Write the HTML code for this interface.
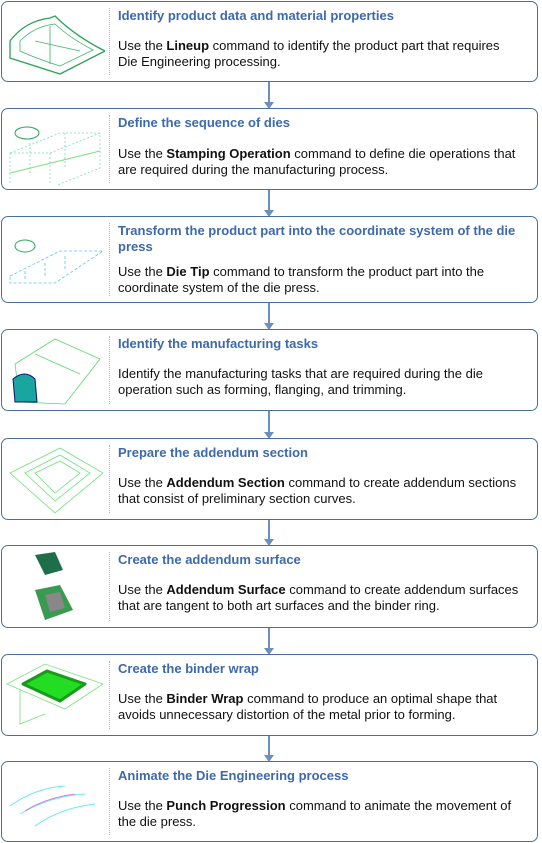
<!DOCTYPE html>
<html><head><meta charset="utf-8"><style>
body{margin:0;width:542px;height:843px;background:#fff;position:relative;font-family:"Liberation Sans",Arial,sans-serif;overflow:hidden}
.box{position:absolute;left:1px;width:537px;border:1.3px solid #4a6f9e;border-radius:7px;box-sizing:border-box;background:#fff}
.div{position:absolute;left:107px;top:6px;bottom:6px;border-left:1.5px dotted #9bbbe0}
.t{position:absolute;left:116px;top:6px;right:10px;color:#3d69ad;font-weight:bold;font-size:13px;line-height:16px}
.b{position:absolute;left:116px;right:17px;color:#111;font-size:13px;line-height:16px}
.img{position:absolute;left:3px;top:4px;width:100px;height:72px}
.arrow{position:absolute;left:268px;width:2px;background:#6a8fc0}
.arrow:after{content:"";position:absolute;left:-4px;bottom:-1px;border-left:5px solid transparent;border-right:5px solid transparent;border-top:7px solid #6a8fc0}
</style></head><body>
<div class="box" style="top:1px;height:81px">
 <svg class="img" viewBox="0 0 100 72"><path d="M5,35 Q20,15 45,12 L50,10 Q70,30 100,45 L55,68 Q30,60 5,52 Z" fill="none" stroke="#2ca35a" stroke-width="1.3"/><path d="M15,35 Q30,20 50,18 Q65,32 88,44 L55,60 Q30,52 15,45Z M30,35 L75,45 M45,20 L45,58" fill="none" stroke="#3cb56a" stroke-width=".8"/></svg>
 <div class="div"></div>
 <div class="t">Identify product data and material properties</div>
 <div class="b" style="top:36px">Use the <b>Lineup</b> command to identify the product part that requires Die Engineering processing.</div>
</div>
<div class="arrow" style="top:82px;height:26px"></div>
<div class="box" style="top:108px;height:82px">
 <svg class="img" viewBox="0 0 100 72"><path d="M5,40 L55,20 L95,20 L95,55 L45,75 L5,75Z M5,40 L45,40 L95,20 M45,40 L45,75 M25,30 L25,60 M60,20 L60,55" fill="none" stroke="#7ad9c0" stroke-dasharray="2,2" stroke-width=".8"/><path d="M5,60 L95,38" stroke="#7ce07a"/><ellipse cx="22" cy="20" rx="12" ry="6" fill="none" stroke="#2ca35a"/></svg>
 <div class="div"></div>
 <div class="t">Define the sequence of dies</div>
 <div class="b" style="top:37px">Use the <b>Stamping Operation</b> command to define die operations that are required during the manufacturing process.</div>
</div>
<div class="arrow" style="top:190px;height:26px"></div>
<div class="box" style="top:216px;height:87px">
 <svg class="img" viewBox="0 0 100 72"><path d="M5,55 L55,30 L98,30 L50,62 L5,62Z M20,50 L20,60 M40,42 L40,55 M60,35 L60,50" fill="none" stroke="#5ac8e8" stroke-width=".8" stroke-dasharray="3,2"/><ellipse cx="20" cy="25" rx="10" ry="6" fill="none" stroke="#2ca35a"/></svg>
 <div class="div"></div>
 <div class="t">Transform the product part into the coordinate system of the die press</div>
 <div class="b" style="top:47px">Use the <b>Die Tip</b> command to transform the product part into the coordinate system of the die press.</div>
</div>
<div class="arrow" style="top:303px;height:26px"></div>
<div class="box" style="top:329px;height:82px">
 <svg class="img" viewBox="0 0 100 72"><path d="M10,30 L50,5 L95,25 L60,70 L15,68Z M30,20 L75,40" fill="none" stroke="#5cd86a" stroke-width=".8"/><path d="M8,45 Q20,35 30,45 L32,68 L10,68Z" fill="#1aa6a0" stroke="#117"/></svg>
 <div class="div"></div>
 <div class="t">Identify the manufacturing tasks</div>
 <div class="b" style="top:36px">Identify the manufacturing tasks that are required during the die operation such as forming, flanging, and trimming.</div>
</div>
<div class="arrow" style="top:411px;height:27px"></div>
<div class="box" style="top:438px;height:82px">
 <svg class="img" viewBox="0 0 100 72"><path d="M5,30 L55,5 L98,30 L50,70Z M20,30 L55,12 L85,30 L50,58Z M30,30 L55,18 L75,30 L50,50Z" fill="none" stroke="#6ee07a" stroke-width=".8"/></svg>
 <div class="div"></div>
 <div class="t">Prepare the addendum section</div>
 <div class="b" style="top:36px">Use the <b>Addendum Section</b> command to create addendum sections that consist of preliminary section curves.</div>
</div>
<div class="arrow" style="top:520px;height:25px"></div>
<div class="box" style="top:545px;height:83px">
 <svg class="img" viewBox="0 0 100 72"><path d="M30,5 L50,2 L58,20 L40,25Z" fill="#1f6e4a"/><path d="M30,40 L55,35 L68,60 L40,70Z" fill="#3a9a50"/><path d="M40,45 L55,42 L60,58 L45,62Z" fill="#888"/></svg>
 <div class="div"></div>
 <div class="t">Create the addendum surface</div>
 <div class="b" style="top:36px">Use the <b>Addendum Surface</b> command to create addendum surfaces that are tangent to both art surfaces and the binder ring.</div>
</div>
<div class="arrow" style="top:628px;height:26px"></div>
<div class="box" style="top:654px;height:82px">
 <svg class="img" viewBox="0 0 100 72"><path d="M2,25 L40,5 L98,25 L60,50Z" fill="none" stroke="#7ae07a" stroke-width=".8"/><path d="M18,25 L42,12 L80,25 L55,42Z" fill="#22dd22" stroke="#1a9a1a" stroke-linejoin="round" stroke-width="3"/><path d="M15,30 L15,65 L40,55" fill="none" stroke="#7ae07a" stroke-width=".8"/></svg>
 <div class="div"></div>
 <div class="t">Create the binder wrap</div>
 <div class="b" style="top:36px">Use the <b>Binder Wrap</b> command to produce an optimal shape that avoids unnecessary distortion of the metal prior to forming.</div>
</div>
<div class="arrow" style="top:736px;height:25px"></div>
<div class="box" style="top:761px;height:81px">
 <svg class="img" viewBox="0 0 100 72"><path d="M5,40 Q30,22 60,20 M15,48 Q45,30 80,28 M30,60 Q55,42 90,38" fill="none" stroke="#6ee8f0" stroke-width="1"/><path d="M20,45 Q40,32 70,28" fill="none" stroke="#e060e0" stroke-width=".8"/></svg>
 <div class="div"></div>
 <div class="t">Animate the Die Engineering process</div>
 <div class="b" style="top:36px">Use the <b>Punch Progression</b> command to animate the movement of the die press.</div>
</div>
</body></html>
